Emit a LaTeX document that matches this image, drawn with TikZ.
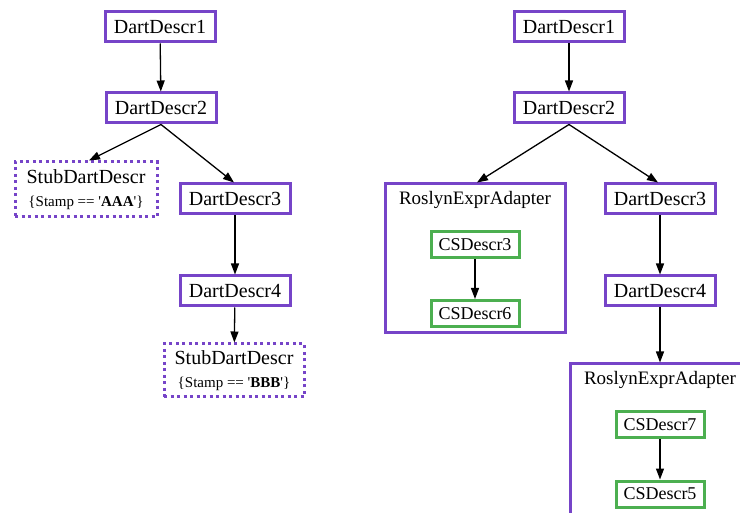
\documentclass[tikz,border=0pt]{standalone}
\usepackage{fontspec}
\setmainfont{Liberation Serif}
\usetikzlibrary{arrows.meta}
\definecolor{dpurple}{RGB}{118,68,200}
\definecolor{dgreen}{RGB}{76,175,80}
\tikzset{
  dartbox/.style={draw=dpurple, line width=3pt, minimum width=110pt, minimum height=30pt, inner sep=0pt, font=\fontsize{20}{22}\selectfont},
  stubbox/.style={draw=dpurple, line width=3pt, dash pattern=on 3pt off 3.5pt, inner sep=0pt, align=center, font=\fontsize{20}{22}\selectfont},
  csbox/.style={draw=dgreen, line width=3pt, minimum width=88pt, minimum height=26pt, inner sep=0pt, font=\fontsize{18}{20}\selectfont},
  cluster/.style={draw=dpurple, line width=3pt, minimum width=180pt, inner sep=0pt},
  clabel/.style={font=\fontsize{19}{21}\selectfont, inner sep=0pt},
  arr/.style={draw=black, line width=1.3pt, -{Triangle[length=11pt,width=8pt]}}
}
\begin{document}
\begin{tikzpicture}[x=1pt,y=-1pt]
\useasboundingbox (0,0) rectangle (740,513);
\fill[white] (0,0) rectangle (740,513);
% left tree
\node[dartbox] (l1) at (160,27) {DartDescr1};
\node[dartbox] (l2) at (161,108) {DartDescr2};
\node[stubbox, minimum width=142pt, minimum height=55pt] (ls1) at (86,189.5) {StubDartDescr\\[1pt]{\fontsize{15}{17}\selectfont\{Stamp == \textquotesingle\textbf{AAA}\textquotesingle\}}};
\node[dartbox] (l3) at (235,199) {DartDescr3};
\node[dartbox] (l4) at (235,291) {DartDescr4};
\node[stubbox, minimum width=140pt, minimum height=53pt] (ls2) at (234,370.5) {StubDartDescr\\[1pt]{\fontsize{15}{17}\selectfont\{Stamp == \textquotesingle\textbf{BBB}\textquotesingle\}}};
\draw[arr] (l1) -- (l2);
\draw[arr] (l2.south) -- ([xshift=3pt]ls1.north);
\draw[arr] (l2.south) -- ([xshift=-1pt]l3.north);
\draw[arr] (l3) -- (l4);
\draw[arr] (l4) -- (ls2);
% right tree
\node[dartbox] (r1) at (569,27) {DartDescr1};
\node[dartbox] (r2) at (569,108) {DartDescr2};
\node[cluster, minimum height=149pt] (c1) at (475,258.5) {};
\node[clabel] (c1l) at (475,200) {RoslynExprAdapter};
\node[csbox] (cs3) at (475,245) {CSDescr3};
\node[csbox] (cs6) at (475,313.5) {CSDescr6};
\node[dartbox] (r3) at (660,199) {DartDescr3};
\node[dartbox] (r4) at (660,291) {DartDescr4};
\node[cluster, minimum height=160pt] (c2) at (660,444) {};
\node[clabel] (c2l) at (660,380) {RoslynExprAdapter};
\node[csbox] (cs7) at (660,425) {CSDescr7};
\node[csbox] (cs5) at (660,494) {CSDescr5};
\draw[arr] (r1) -- (r2);
\draw[arr] (r2.south) -- ([xshift=2pt]c1.north);
\draw[arr] (r2.south) -- ([xshift=-2pt]r3.north);
\draw[arr] (r3) -- (r4);
\draw[arr] (r4) -- (c2.north);
\draw[arr] (cs3) -- (cs6);
\draw[arr] (cs7) -- (cs5);
\end{tikzpicture}
\end{document}
